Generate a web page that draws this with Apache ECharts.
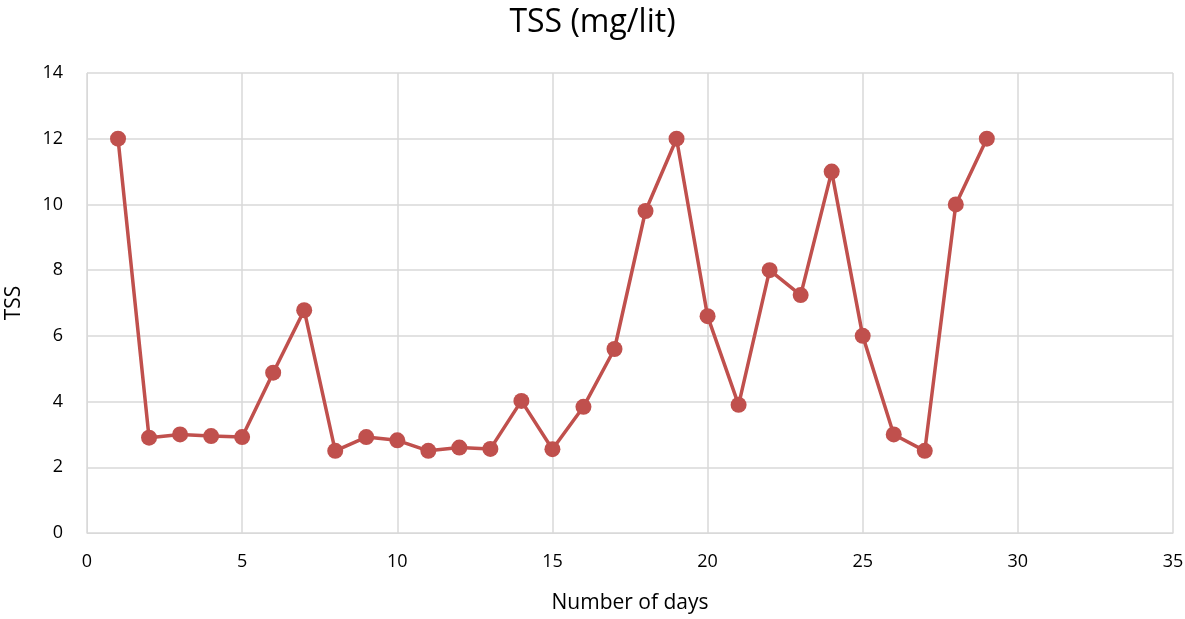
<!DOCTYPE html>
<html>
<head>
<meta charset="utf-8">
<script src="https://cdn.jsdelivr.net/npm/echarts@6/dist/echarts.min.js"></script>
<style>
  html, body { margin: 0; padding: 0; background: #fff; }
  #chart { width: 1185px; height: 619px; }
</style>
</head>
<body>
<div id="chart"></div>
<script>
const days = [1, 2, 3, 4, 5, 6, 7, 8, 9, 10, 11, 12, 13, 14, 15, 16, 17, 18, 19, 20, 21, 22, 23, 24, 25, 26, 27, 28, 29];
const tss = [12, 2.9, 3.0, 2.95, 2.92, 4.88, 6.78, 2.5, 2.92, 2.82, 2.5, 2.6, 2.56, 4.02, 2.55, 3.84, 5.6, 9.8, 12, 6.6, 3.9, 8.0, 7.24, 11.0, 6.0, 3.0, 2.5, 10.0, 12];

const font = '"Open Sans", "Liberation Sans", sans-serif';
const chart = echarts.init(document.getElementById('chart'));

chart.setOption({
  animation: false,
  title: {
    text: 'TSS (mg/lit)',
    left: 'center',
    top: 2,
    textStyle: { fontFamily: font, fontSize: 32, fontWeight: 'normal', color: '#000' }
  },
  grid: { left: 87, right: 12, top: 73, bottom: 86, outerBoundsMode: 'none' },
  xAxis: {
    type: 'value',
    min: 0,
    max: 35,
    interval: 5,
    name: 'Number of days',
    nameLocation: 'middle',
    nameGap: 60,
    nameTextStyle: { fontFamily: font, fontSize: 21, color: '#000' },
    axisLine: { lineStyle: { color: '#d9d9d9' } },
    axisTick: { show: false },
    axisLabel: { fontFamily: font, fontSize: 18, color: '#000', margin: 20 },
    splitLine: { show: true, lineStyle: { color: '#d9d9d9', width: 1.5 } }
  },
  yAxis: {
    type: 'value',
    min: 0,
    max: 14,
    interval: 2,
    name: 'TSS',
    nameLocation: 'middle',
    nameGap: 62,
    nameTextStyle: { fontFamily: font, fontSize: 21, color: '#000' },
    axisLine: { show: true, lineStyle: { color: '#d9d9d9' } },
    axisTick: { show: false },
    axisLabel: { fontFamily: font, fontSize: 18, color: '#000', margin: 24 },
    splitLine: { show: true, lineStyle: { color: '#d9d9d9', width: 1.5 } }
  },
  series: [{
    type: 'line',
    data: days.map((d, i) => [d, tss[i]]),
    symbol: 'circle',
    symbolSize: 16,
    itemStyle: { color: '#c0504d' },
    lineStyle: { color: '#c0504d', width: 3.5 }
  }]
});
</script>
</body>
</html>
